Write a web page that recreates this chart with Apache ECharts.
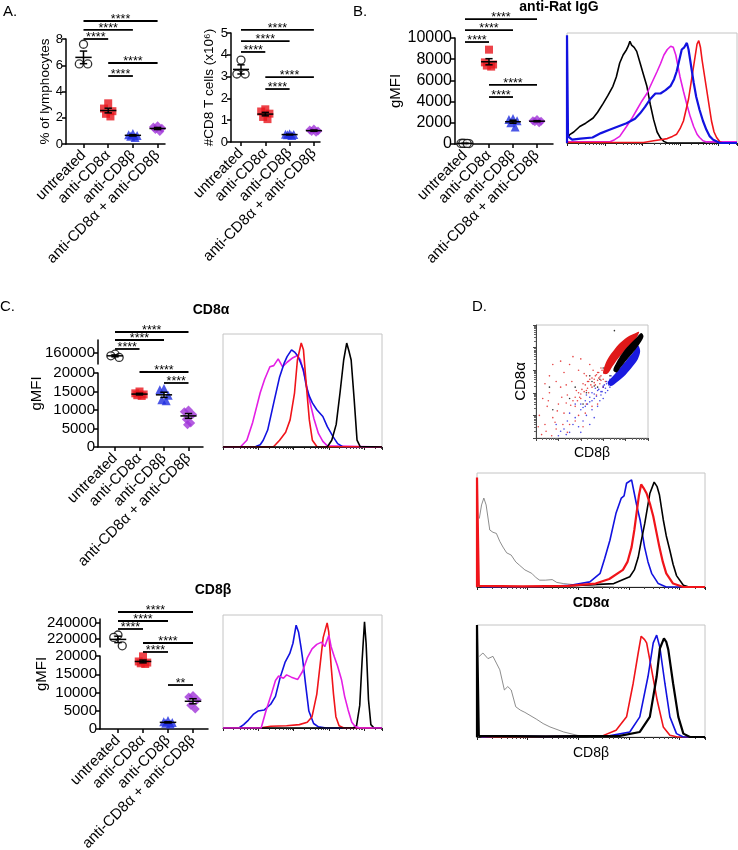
<!DOCTYPE html>
<html><head><meta charset="utf-8">
<script src="https://cdn.jsdelivr.net/npm/echarts@6/dist/echarts.min.js"></script>
<style>html,body{margin:0;padding:0;background:#fff}#c{width:738px;height:850px}</style>
</head><body><div id="c"></div><script>
// ---------------- DATA ----------------
const groups = ['untreated','anti-CD8α','anti-CD8β','anti-CD8α + anti-CD8β'];

// Panel A (left): % of lymphocytes
const lymphPct = [[7.6,6.1,6.1],[3.1,2.7,2.5,2.3,2.1],[0.8,0.7,0.65,0.6,0.5],[1.4,1.3,1.2,1.1,0.95]];
const lymphPctMean = [6.6,2.55,0.66,1.18];
const lymphPctSem = [0.48,0.18,0.05,0.08];
const lymphPctTicks = [0,2,4,6,8];
const lymphPctSigLevel = [9.37,8.69,8.0,6.17,5.18];

// Panel A (right): #CD8 T cells (x10^6)
const cd8Count = [[3.76,3.12,3.12],[1.5,1.4,1.3,1.15,1.05],[0.38,0.36,0.34,0.33,0.3],[0.6,0.55,0.5,0.48,0.45]];
const cd8CountMean = [3.33,1.28,0.34,0.52];
const cd8CountSem = [0.21,0.08,0.015,0.03];
const cd8CountTicks = [0,1,2,3,4,5];
const cd8CountSigLevel = [5.14,4.63,4.13,2.98,2.43];

// Panel B: anti-Rat IgG gMFI
const ratIgG = [[60,50,40,70,50],[8900,7700,7500,7400,7300],[2400,2300,2200,2000,1600],[2300,2200,2150,2100,2000]];
const ratIgGMean = [55,7760,2100,2150];
const ratIgGSem = [6,290,140,50];
const ratIgGTicks = [0,2000,4000,6000,8000,10000];
const ratIgGSigLevel = [11790,10750,9620,5570,4430];

// Panel C: CD8α gMFI (broken axis)
const cd8aMFI = [[158000,155000,152000],[15000,14500,14200,14000,13800],[15800,15500,14000,12800,12500],[10000,9500,8800,7500,6500,6000]];
const cd8aMean = [155000,14300,14100,8400];
const cd8aSem = [1700,220,700,650];
const cd8aTicksLow = [0,5000,10000,15000,20000];
const cd8aTicksHigh = [160000];
const cd8aSigLevel = [31080,28920,26490,20270,17300];

// Panel C: CD8β gMFI (broken axis)
const cd8bMFI = [[225000,222000,211500],[19900,18500,18200,18000,17800],[2300,2000,1800,1600,1400],[9200,8800,8000,6500,5500]];
const cd8bMean = [219500,18500,1820,7600];
const cd8bSem = [4000,380,150,700];
const cd8bTicksLow = [0,5000,10000,15000,20000];
const cd8bTicksHigh = [220000,240000];
const cd8bSigLevel = [32050,29590,27400,23560,21100,12050];

// significance comparisons
const sigPairsA = [[0,3],[0,2],[0,1],[1,3],[1,2]];
const sigLabelsA = ['****','****','****','****','****'];
const sigPairsCa = [[0,3],[0,2],[0,1],[1,3],[2,3]];
const sigPairsCb = [[0,3],[0,2],[0,1],[1,3],[1,2],[2,3]];
const sigLabelsCb = ['****','****','****','****','****','**'];

// Histograms: [position (0-1 of log range), normalized count]
const histB_black = [[0.005,0.05],[0.016,0.076],[0.04,0.1],[0.075,0.15],[0.11,0.18],[0.154,0.227],[0.18,0.28],[0.213,0.36],[0.24,0.43],[0.27,0.515],[0.29,0.6],[0.31,0.727],[0.33,0.8],[0.35,0.848],[0.36,0.88],[0.37,0.925],[0.38,0.89],[0.395,0.87],[0.41,0.833],[0.43,0.727],[0.45,0.62],[0.47,0.515],[0.49,0.35],[0.51,0.21],[0.53,0.1],[0.55,0.045],[0.57,0.015],[0.59,0.0],[1,0]];
const histB_magenta = [[0,0.01],[0.25,0.01],[0.28,0.03],[0.31,0.06],[0.35,0.15],[0.38,0.22],[0.41,0.3],[0.44,0.38],[0.47,0.45],[0.5,0.55],[0.53,0.65],[0.55,0.72],[0.57,0.8],[0.59,0.85],[0.61,0.88],[0.625,0.87],[0.64,0.8],[0.665,0.6],[0.685,0.47],[0.705,0.35],[0.725,0.24],[0.745,0.15],[0.765,0.08],[0.78,0.05],[0.8,0.02],[0.82,0.01],[1,0.01]];
const histB_red = [[0,0.005],[0.45,0.005],[0.51,0.02],[0.55,0.03],[0.59,0.04],[0.62,0.06],[0.645,0.08],[0.665,0.13],[0.685,0.2],[0.7,0.3],[0.715,0.4],[0.73,0.55],[0.745,0.7],[0.755,0.8],[0.765,0.9],[0.775,0.93],[0.785,0.87],[0.795,0.75],[0.81,0.6],[0.82,0.5],[0.835,0.35],[0.85,0.2],[0.865,0.1],[0.88,0.05],[0.9,0.01],[0.92,0],[1,0]];
const histB_blue = [[0,0],[0,0.98],[0.006,0.06],[0.03,0.03],[0.08,0.04],[0.15,0.05],[0.2,0.09],[0.25,0.12],[0.3,0.15],[0.35,0.18],[0.4,0.22],[0.43,0.27],[0.46,0.33],[0.49,0.4],[0.52,0.45],[0.55,0.45],[0.58,0.48],[0.61,0.52],[0.63,0.58],[0.645,0.65],[0.66,0.75],[0.675,0.85],[0.69,0.87],[0.705,0.91],[0.715,0.85],[0.725,0.75],[0.735,0.65],[0.745,0.55],[0.76,0.42],[0.78,0.3],[0.8,0.2],[0.82,0.12],[0.84,0.06],[0.86,0.03],[0.9,0.0],[1,0]];

const histCa_magenta = [[0,0],[0.112,0.005],[0.15,0.06],[0.187,0.22],[0.234,0.48],[0.262,0.6],[0.295,0.71],[0.319,0.72],[0.347,0.78],[0.375,0.71],[0.403,0.75],[0.44,0.79],[0.468,0.81],[0.487,0.77],[0.515,0.62],[0.543,0.42],[0.572,0.25],[0.6,0.12],[0.628,0.05],[0.656,0.01],[1,0]];
const histCa_blue = [[0,0],[0.206,0.005],[0.234,0.02],[0.253,0.06],[0.281,0.15],[0.319,0.39],[0.356,0.62],[0.384,0.74],[0.403,0.8],[0.431,0.86],[0.45,0.84],[0.468,0.81],[0.487,0.75],[0.506,0.68],[0.525,0.53],[0.543,0.45],[0.562,0.39],[0.59,0.33],[0.628,0.27],[0.656,0.18],[0.693,0.09],[0.721,0.03],[0.75,0.005],[1,0]];
const histCa_red = [[0,0],[0.319,0.005],[0.356,0.06],[0.394,0.13],[0.422,0.24],[0.45,0.48],[0.468,0.77],[0.492,0.92],[0.506,0.86],[0.525,0.53],[0.543,0.24],[0.562,0.06],[0.59,0.005],[1,0]];
const histCa_black = [[0,0],[0.656,0],[0.684,0.06],[0.712,0.2],[0.736,0.48],[0.759,0.77],[0.778,0.92],[0.792,0.85],[0.806,0.77],[0.825,0.42],[0.843,0.06],[0.862,0.005],[1,0]];

const histCb_blue = [[0,0],[0.1,0],[0.13,0.03],[0.16,0.07],[0.19,0.12],[0.22,0.15],[0.26,0.16],[0.3,0.21],[0.33,0.28],[0.36,0.45],[0.39,0.58],[0.42,0.66],[0.44,0.75],[0.46,0.91],[0.475,0.85],[0.49,0.72],[0.5,0.62],[0.52,0.38],[0.54,0.15],[0.57,0.04],[0.6,0.01],[0.65,0],[1,0]];
const histCb_red = [[0,0],[0.25,0.005],[0.3,0.015],[0.4,0.02],[0.48,0.03],[0.53,0.05],[0.56,0.1],[0.59,0.3],[0.61,0.55],[0.63,0.8],[0.655,0.93],[0.665,0.85],[0.68,0.55],[0.695,0.3],[0.71,0.1],[0.73,0.02],[0.76,0],[1,0]];
const histCb_black = [[0,0],[0.82,0],[0.84,0.02],[0.86,0.2],[0.875,0.6],[0.89,0.94],[0.9,0.75],[0.915,0.25],[0.93,0.03],[0.95,0],[1,0]];
const histCb_magenta = [[0,0],[0.24,0],[0.27,0.15],[0.3,0.28],[0.33,0.42],[0.35,0.46],[0.38,0.44],[0.4,0.47],[0.43,0.45],[0.47,0.43],[0.5,0.5],[0.53,0.62],[0.56,0.7],[0.59,0.74],[0.62,0.76],[0.64,0.72],[0.666,0.82],[0.68,0.72],[0.7,0.63],[0.72,0.55],[0.745,0.43],[0.765,0.28],[0.787,0.16],[0.81,0.05],[0.83,0.015],[0.86,0],[1,0]];

const histDa_gray = [[0.01,0.6],[0.02,0.72],[0.03,0.78],[0.04,0.72],[0.056,0.5],[0.07,0.48],[0.085,0.47],[0.1,0.4],[0.114,0.35],[0.13,0.3],[0.15,0.28],[0.17,0.22],[0.187,0.19],[0.21,0.15],[0.24,0.12],[0.26,0.08],[0.275,0.06],[0.3,0.06],[0.33,0.065],[0.35,0.04],[0.38,0.03],[0.45,0.015],[0.52,0.005],[0.6,0]];
const histDa_blue = [[0.02,0],[0.3,0.005],[0.41,0.015],[0.495,0.045],[0.54,0.12],[0.56,0.25],[0.583,0.41],[0.61,0.65],[0.633,0.78],[0.645,0.8],[0.656,0.91],[0.678,0.94],[0.69,0.82],[0.7,0.72],[0.715,0.59],[0.735,0.35],[0.75,0.22],[0.766,0.12],[0.795,0.03],[0.83,0],[1,0]];
const histDa_black = [[0.3,0],[0.6,0.03],[0.67,0.09],[0.69,0.15],[0.707,0.26],[0.72,0.4],[0.736,0.56],[0.758,0.82],[0.777,0.92],[0.79,0.88],[0.8,0.81],[0.817,0.59],[0.83,0.45],[0.846,0.32],[0.86,0.2],[0.875,0.1],[0.905,0.015],[0.93,0],[1,0]];
const histDa_red = [[0,0],[0,0.96],[0.008,0.01],[0.2,0.005],[0.4,0.01],[0.52,0.03],[0.58,0.07],[0.64,0.15],[0.66,0.22],[0.678,0.35],[0.69,0.5],[0.7,0.65],[0.71,0.8],[0.72,0.9],[0.73,0.87],[0.744,0.82],[0.76,0.72],[0.773,0.62],[0.8,0.35],[0.815,0.22],[0.83,0.12],[0.86,0.03],[0.905,0],[1,0]];

const histDb_gray = [[0.01,0.72],[0.026,0.75],[0.048,0.7],[0.07,0.72],[0.085,0.66],[0.1,0.6],[0.12,0.42],[0.135,0.45],[0.15,0.42],[0.17,0.27],[0.19,0.24],[0.21,0.22],[0.26,0.16],[0.29,0.12],[0.32,0.09],[0.38,0.045],[0.44,0.015],[0.5,0]];
const histDb_red = [[0.02,0],[0.3,0.005],[0.55,0.01],[0.61,0.06],[0.656,0.18],[0.685,0.48],[0.707,0.75],[0.72,0.9],[0.735,0.87],[0.744,0.84],[0.766,0.6],[0.79,0.33],[0.817,0.09],[0.846,0.015],[0.88,0],[1,0]];
const histDb_blue = [[0.02,0],[0.1,0.01],[0.3,0.005],[0.58,0.01],[0.67,0.045],[0.714,0.18],[0.75,0.54],[0.773,0.84],[0.788,0.91],[0.802,0.8],[0.824,0.48],[0.846,0.18],[0.875,0.03],[0.905,0],[1,0]];
const histDb_black = [[0,0],[0,1],[0.008,0.01],[0.3,0.005],[0.626,0.01],[0.714,0.045],[0.758,0.18],[0.788,0.54],[0.802,0.79],[0.82,0.88],[0.83,0.85],[0.839,0.78],[0.86,0.48],[0.883,0.18],[0.905,0.03],[0.934,0],[1,0]];

// Panel D scatter (CD8β vs CD8α, 0-100 of log range)
const dotRedCore = [[60,57],[61,63],[64,70],[69,77],[75,84],[81,89],[87,92],[92,94],[90,89],[85,83],[79,77],[73,70],[68,63],[64,57]];
const dotBlackCore = [[69,60],[72,67],[77,75],[83,82],[89,88],[94,93],[96,90],[93,84],[87,76],[81,69],[76,63],[72,58]];
const dotBlueCore = [[64,49],[69,55],[75,62],[81,69],[87,76],[91,82],[93,77],[91,70],[86,63],[80,56],[73,50],[67,46]];
const dotRed = [[5,3],[8,12],[3,20],[10,28],[6,35],[12,40],[15,18],[18,8],[20,30],[22,45],[25,22],[28,38],[30,12],[32,50],[35,28],[36,42],[38,60],[40,35],[42,48],[44,22],[45,55],[47,40],[48,65],[50,45],[52,52],[54,38],[55,58],[57,48],[58,62],[60,52],[12,55],[18,50],[25,58],[30,65],[15,65],[8,48],[28,5],[35,15],[42,10],[50,28],[55,30],[40,70],[33,72],[22,68],[60,45],[62,50],[45,30],[38,20],[2,10],[14,2],[11,33],[19,24],[27,47],[33,33],[43,57],[51,60],[56,53],[53,47],[46,50],[24,12],
  [35,36],[38,40],[41,43],[44,47],[47,50],[50,53],[53,55],[56,58],[58,55],[52,49],[46,44],[40,39],[37,33],[43,41],[49,47],[55,51],[59,60],[62,62],[57,54],[61,58],[58,51],[54,56],[48,52],[45,42],[39,36],[31,29],[27,31],[23,36],[17,14],[9,6]];
const dotBlue = [[20,2],[25,8],[30,5],[35,18],[38,10],[40,25],[42,15],[45,20],[48,32],[50,25],[52,35],[55,28],[55,42],[58,38],[60,45],[62,40],[63,48],[30,22],[28,15],[45,38],[50,40],[57,33],[35,30],[40,5],[18,12],[60,35],[64,42],[66,45],[48,12],[52,18],[33,12],[44,28],[53,44],[59,41],[61,47],
  [40,30],[44,33],[48,36],[52,39],[56,43],[60,46],[63,50],[66,52],[68,50],[62,44],[58,41],[54,37],[50,33],[46,30],[42,27],[65,47],[67,55],[22,6],[27,3]];
const dotBlack = [[15,25],[30,35],[42,30],[50,50],[55,45],[48,55],[62,58],[66,55],[60,62],[35,45],[70,95],[12,45],[57,52],[64,60],[52,46],[45,40]];

// ---------------- BUILD ----------------
const FONT = 'Liberation Sans, Arial, Helvetica, sans-serif';
const COL = {red:'#e8141c', blue:'#1f2de0', purple:'#a035d8', hRed:'#f0141a', hBlue:'#1212e0', hMag:'#e41ee4', hGray:'#707070'};
const opt = {animation:false, backgroundColor:'#fff', textStyle:{fontFamily:FONT, color:'#000'},
  grid:[], xAxis:[], yAxis:[], series:[], title:[], graphic:[]};

function addGrid(l,t,w,h,extra){ opt.grid.push(Object.assign({left:l,top:t,width:w,height:h,containLabel:false,outerBoundsMode:'none'},extra||{})); return opt.grid.length-1; }
function catAxis(gi,min,max,showLabels,fs){
  opt.xAxis.push({gridIndex:gi,type:'value',min:min,max:max,splitLine:{show:false},
    axisLine:{show:showLabels,onZero:false,lineStyle:{color:'#000',width:1.5}},
    axisTick:{show:showLabels,customValues:[0,1,2,3],length:4,lineStyle:{color:'#000',width:1.5}},
    axisLabel:{show:showLabels,customValues:[0,1,2,3],formatter:v=>groups[Math.round(v)],rotate:45,fontSize:fs,color:'#000',margin:9,fontFamily:FONT}});
  return opt.xAxis.length-1;
}
function valAxis(gi,o){
  opt.yAxis.push({gridIndex:gi,type:'value',min:o.min,max:o.max,splitLine:{show:false},
    axisLine:{show:true,onZero:false,lineStyle:{color:'#000',width:1.5}},
    axisTick:{show:true,length:4,customValues:o.ticks,lineStyle:{color:'#000',width:1.5}},
    axisLabel:{customValues:o.ticks,fontSize:o.fs,color:'#000',margin:o.margin||4,formatter:v=>String(v),fontFamily:FONT},
    name:o.name||'',nameLocation:'middle',nameGap:o.nameGap||10,nameTextStyle:{fontSize:o.nameFs||13,color:'#000',fontFamily:FONT}});
  return opt.yAxis.length-1;
}
const markers = [
  {symbol:'circle',size:8,itemStyle:{color:'#fff',borderColor:'#000',borderWidth:1.3}},
  {symbol:'rect',size:8,itemStyle:{color:COL.red}},
  {symbol:'triangle',size:9,itemStyle:{color:COL.blue}},
  {symbol:'diamond',size:9,itemStyle:{color:COL.purple}}];
const jit = [0,-0.17,0.17,-0.09,0.09,-0.04,0.04];
function addDots(xi,yi,g,vals){
  const m = markers[g];
  opt.series.push({type:'scatter',xAxisIndex:xi,yAxisIndex:yi,symbol:m.symbol,symbolSize:m.size,itemStyle:m.itemStyle,
    data:vals.map((v,k)=>[g+jit[k%jit.length],v]),z:3,silent:true,clip:false});
}
function addMeanSem(xi,yi,gs,means,sems){
  opt.series.push({type:'custom',xAxisIndex:xi,yAxisIndex:yi,clip:false,z:5,silent:true,
    data:gs.map(g=>[g,means[g],sems[g]]),
    renderItem:(p,api)=>{
      const x=api.value(0),m=api.value(1),s=api.value(2);
      const L=(a,b)=>({type:'line',shape:{x1:a[0],y1:a[1],x2:b[0],y2:b[1]},style:{stroke:'#000',lineWidth:1.5}});
      return {type:'group',children:[
        L(api.coord([x-0.33,m]),api.coord([x+0.33,m])),
        L(api.coord([x,m-s]),api.coord([x,m+s])),
        L(api.coord([x-0.15,m+s]),api.coord([x+0.15,m+s])),
        L(api.coord([x-0.15,m-s]),api.coord([x+0.15,m-s]))]};
    }});
}
function addSig(xi,yi,pairs,labels,levels){
  opt.series.push({type:'custom',xAxisIndex:xi,yAxisIndex:yi,clip:false,z:5,silent:true,
    encode:{x:0,y:2},
    data:pairs.map((p,k)=>[p[0],p[1],levels[k],k]),
    renderItem:(p,api)=>{
      const a=api.coord([api.value(0),api.value(2)]), b=api.coord([api.value(1),api.value(2)]);
      const k=api.value(3);
      return {type:'group',children:[
        {type:'line',shape:{x1:a[0],y1:a[1],x2:b[0],y2:b[1]},style:{stroke:'#000',lineWidth:1.8}},
        {type:'text',x:(a[0]+b[0])/2,y:a[1]+5,style:{text:labels[k],fontSize:12.5,fontFamily:FONT,fill:'#000',align:'center',verticalAlign:'bottom'}}]};
    }});
}
function dotPlot(o){
  const gi = addGrid(o.x0,o.top,o.xEnd-o.x0,o.bottom-o.top);
  const min = -(o.c0-o.x0)/o.step, max = (o.xEnd-o.c0)/o.step;
  const xi = catAxis(gi,min,max,true,15);
  const yi = valAxis(gi,{min:o.min,max:o.max,ticks:o.ticks,fs:o.fs,name:o.name,nameGap:o.nameGap,nameFs:o.nameFs,margin:o.margin});
  o.values.forEach((v,g)=>addDots(xi,yi,g,v));
  addMeanSem(xi,yi,[0,1,2,3],o.means,o.sems);
  addSig(xi,yi,o.pairs,o.labels,o.levels);
}
function brokenPlot(o){
  const min = -(o.c0-o.x0)/o.step, max = (o.xEnd-o.c0)/o.step;
  const gu = addGrid(o.x0,o.upTop,o.xEnd-o.x0,o.upBottom-o.upTop);
  const xu = catAxis(gu,min,max,false,15);
  const yu = valAxis(gu,{min:o.upMin,max:o.upMax,ticks:o.upTicks,fs:o.fs,margin:o.margin});
  const gl = addGrid(o.x0,o.top,o.xEnd-o.x0,o.bottom-o.top);
  const xl = catAxis(gl,min,max,true,15);
  const yl = valAxis(gl,{min:0,max:20000,ticks:o.ticks,fs:o.fs,margin:o.margin});
  addDots(xu,yu,0,o.values[0]);
  addMeanSem(xu,yu,[0],o.means,o.sems);
  [1,2,3].forEach(g=>addDots(xl,yl,g,o.values[g]));
  addMeanSem(xl,yl,[1,2,3],o.means,o.sems);
  addSig(xl,yl,o.pairs,o.labels,o.levels);
  opt.graphic.push({type:'text',x:o.nameX,y:(o.upTop+o.bottom)/2,rotation:Math.PI/2,
    style:{text:'gMFI',fontSize:15,fontFamily:FONT,fill:'#000',align:'center',verticalAlign:'middle'}});
}
function addHist(l,t,w,h,curves,xname,xnameBold){
  const gi = addGrid(l,t,w,h,{show:true,borderColor:'#c4c4c4',borderWidth:1,backgroundColor:'transparent'});
  const xi = opt.xAxis.push({gridIndex:gi,type:'value',min:0,max:1,show:false})-1;
  opt.xAxis.push({gridIndex:gi,type:'log',min:1,max:31623,position:'bottom',
    axisLine:{show:true,onZero:false,lineStyle:{color:'#222',width:1}},
    axisTick:{show:true,length:3,lineStyle:{color:'#222'}},
    minorTick:{show:true,length:2,splitNumber:9,lineStyle:{color:'#444'}},
    axisLabel:{show:false},splitLine:{show:false},
    name:xname||'',nameLocation:'middle',nameGap:9,
    nameTextStyle:{fontSize:14,fontWeight:xnameBold?'bold':'normal',color:'#000',fontFamily:FONT,verticalAlign:'top'}});
  const yi = opt.yAxis.push({gridIndex:gi,type:'value',min:0,max:1,show:false})-1;
  curves.forEach(c=>opt.series.push({type:'line',xAxisIndex:xi,yAxisIndex:yi,data:c[0],showSymbol:false,symbol:'none',
    lineStyle:{color:c[1],width:c[2]||1.6},silent:true,z:2}));
}

// Panel A left
dotPlot({x0:66,c0:83.5,step:24.7,xEnd:165,top:39,bottom:144,min:0,max:8,ticks:lymphPctTicks,fs:13,margin:3,
  name:'% of lymphocytes',nameGap:14,nameFs:13.5,values:lymphPct,means:lymphPctMean,sems:lymphPctSem,
  pairs:sigPairsA,labels:sigLabelsA,levels:lymphPctSigLevel});
// Panel A right
dotPlot({x0:231,c0:241,step:24.3,xEnd:320,top:33,bottom:142,min:0,max:5,ticks:cd8CountTicks,fs:13,margin:3,
  name:'#CD8 T cells (x10⁶)',nameGap:15,nameFs:13.5,values:cd8Count,means:cd8CountMean,sems:cd8CountSem,
  pairs:sigPairsA,labels:sigLabelsA,levels:cd8CountSigLevel});
// Panel B
dotPlot({x0:455,c0:465,step:24,xEnd:553,top:38,bottom:144,min:0,max:10000,ticks:ratIgGTicks,fs:16,margin:3,
  name:'gMFI',nameGap:52,nameFs:15,values:ratIgG,means:ratIgGMean,sems:ratIgGSem,
  pairs:sigPairsA,labels:sigLabelsA,levels:ratIgGSigLevel});
addHist(567,33,170,110,[[histB_black,'#000'],[histB_magenta,COL.hMag],[histB_red,COL.hRed],[histB_blue,COL.hBlue,2.2]]);

// Panel C CD8α
brokenPlot({x0:98,c0:115,step:24.5,xEnd:203,upTop:340,upBottom:364,upMin:140000,upMax:184000,upTicks:cd8aTicksHigh,
  top:373,bottom:447,ticks:cd8aTicksLow,fs:15,margin:3,nameX:37,
  values:cd8aMFI,means:cd8aMean,sems:cd8aSem,pairs:sigPairsCa,labels:sigLabelsA,levels:cd8aSigLevel});
addHist(223,334,159,113,[[histCa_magenta,COL.hMag],[histCa_blue,COL.hBlue],[histCa_red,COL.hRed],[histCa_black,'#000']]);
// Panel C CD8β
brokenPlot({x0:100,c0:118,step:25,xEnd:208,upTop:619,upBottom:647,upMin:210000,upMax:245000,upTicks:cd8bTicksHigh,
  top:656,bottom:729,ticks:cd8bTicksLow,fs:15,margin:3,nameX:42,
  values:cd8bMFI,means:cd8bMean,sems:cd8bSem,pairs:sigPairsCb,labels:sigLabelsCb,levels:cd8bSigLevel});
addHist(223,615,159,113,[[histCb_blue,COL.hBlue],[histCb_red,COL.hRed],[histCb_black,'#000'],[histCb_magenta,COL.hMag]]);

// Panel D scatter
(function(){
  const gi = addGrid(536,325,112,113,{show:true,borderColor:'#c4c4c4',borderWidth:1,backgroundColor:'transparent'});
  const xi = opt.xAxis.push({gridIndex:gi,type:'value',min:0,max:100,show:false})-1;
  opt.xAxis.push({gridIndex:gi,type:'log',min:1,max:100000,position:'bottom',axisLine:{show:true,onZero:false,lineStyle:{color:'#444'}},
    axisTick:{show:true,length:3,lineStyle:{color:'#444'}},minorTick:{show:true,length:2,splitNumber:9,lineStyle:{color:'#666'}},
    axisLabel:{show:false},splitLine:{show:false},name:'CD8β',nameLocation:'middle',nameGap:8,
    nameTextStyle:{fontSize:14,color:'#000',fontFamily:FONT,verticalAlign:'top'}});
  const yi = opt.yAxis.push({gridIndex:gi,type:'value',min:0,max:100,show:false})-1;
  opt.yAxis.push({gridIndex:gi,type:'log',min:1,max:100000,position:'left',axisLine:{show:true,onZero:false,lineStyle:{color:'#444'}},
    axisTick:{show:true,length:3,lineStyle:{color:'#444'}},minorTick:{show:true,length:2,splitNumber:9,lineStyle:{color:'#666'}},
    axisLabel:{show:false},splitLine:{show:false},name:'CD8α',nameLocation:'middle',nameGap:8,
    nameTextStyle:{fontSize:15,color:'#000',fontFamily:FONT}});
  const sc=(d,c)=>opt.series.push({type:'scatter',xAxisIndex:xi,yAxisIndex:yi,data:d,symbolSize:1.6,itemStyle:{color:c},silent:true,z:2});
  const poly=(d,c,z)=>opt.series.push({type:'custom',xAxisIndex:xi,yAxisIndex:yi,data:[d[0]],silent:true,z:z,
    renderItem:(p,api)=>({type:'polygon',shape:{points:d.map(pt=>api.coord(pt)),smooth:0.3},style:{fill:c}})});
  sc(dotRed,'#e01818'); sc(dotBlue,'#1a1ae0'); sc(dotBlack,'#000');
  poly(dotBlueCore,'#1a1ae0',3); poly(dotRedCore,'#e01818',4); poly(dotBlackCore,'#000',5);
})();
addHist(477,473,228,114,[[histDa_gray,COL.hGray,0.8],[histDa_blue,COL.hBlue],[histDa_black,'#000'],[histDa_red,COL.hRed,2.2]],'CD8α',true);
addHist(477,625,228,112,[[histDb_gray,COL.hGray,0.8],[histDb_red,COL.hRed],[histDb_blue,COL.hBlue],[histDb_black,'#000',2.2]],'CD8β',false);

// Panel letters and titles
const T=(text,x,y,fs,bold,align)=>opt.title.push({text:text,left:x,top:y,textAlign:align||'left',padding:0,
  textStyle:{fontSize:fs,fontWeight:bold?'bold':'normal',color:'#000',fontFamily:FONT}});
T('A.',3,4,15); T('B.',353,4,15); T('C.',0,299,15); T('D.',472,299,15);
T('anti-Rat IgG',559,0,14,true,'center'); T('CD8α',211,303,14,true,'center'); T('CD8β',213,583,14,true,'center');

const chart = echarts.init(document.getElementById('c'),null,{renderer:'canvas'});
chart.setOption(opt);
</script></body></html>
